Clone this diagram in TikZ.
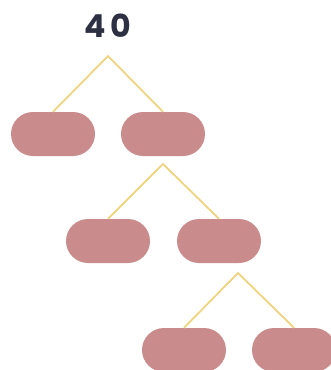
\documentclass[tikz,border=0pt]{standalone}
\usepackage{fontspec}
\setmainfont{Poppins}
\usepackage{tikz}
\usetikzlibrary{positioning}
\definecolor{pillrose}{RGB}{201,139,140}
\definecolor{branchyellow}{RGB}{240,210,125}
\definecolor{inkblue}{RGB}{45,47,66}

\begin{document}
\begin{tikzpicture}[
  pill/.style={fill=pillrose,rounded corners=0.66cm,minimum width=2.52cm,
               minimum height=1.32cm,inner sep=0pt},
  branch/.style={draw=branchyellow,line width=1.5pt}
]
  \useasboundingbox (0,0) rectangle (9.93,-11.1);
  \clip (0,0) rectangle (9.93,-11.1);
  \node[font=\fontsize{27}{30}\selectfont\bfseries,text=inkblue] (root) at (3.24,-0.78) {4\hspace{0.12cm}0};
  % first split
  \coordinate (a1) at (3.24,-1.68);
  \node[pill] (p1L) at (1.59,-4.02) {};
  \node[pill] (p1R) at (4.89,-4.02) {};
  % second split
  \coordinate (a2) at (4.89,-4.92);
  \node[pill] (p2L) at (3.24,-7.23) {};
  \node[pill] (p2R) at (6.57,-7.23) {};
  % third split
  \coordinate (a3) at (7.14,-8.19);
  \node[pill] (p3L) at (5.52,-10.5) {};
  \node[pill] (p3R) at (8.82,-10.5) {};
  \draw[branch] (p1L.north) -- (a1) -- (p1R.north);
  \draw[branch] (p2L.north) -- (a2) -- (p2R.north);
  \draw[branch] (p3L.north) -- (a3) -- (p3R.north);
\end{tikzpicture}
\end{document}
